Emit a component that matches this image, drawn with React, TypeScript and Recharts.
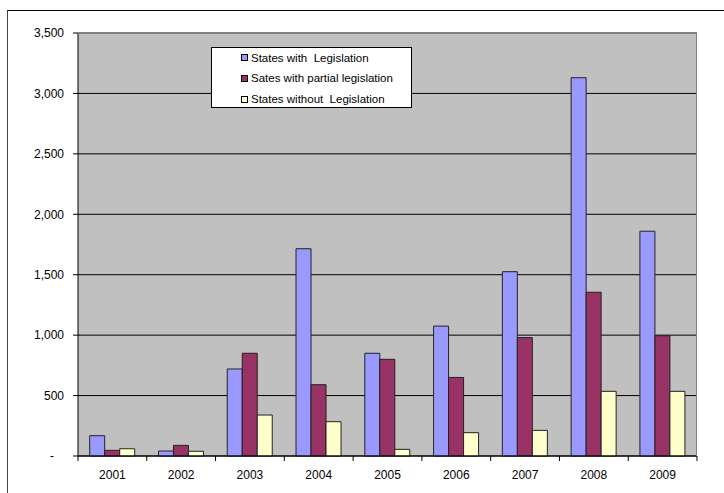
import React from 'react';
import { BarChart, Bar, XAxis, YAxis, CartesianGrid } from 'recharts';

const years = ['2001', '2002', '2003', '2004', '2005', '2006', '2007', '2008', '2009'];
const withLegislation = [168, 41, 720, 1715, 850, 1075, 1525, 3130, 1860];
const partialLegislation = [47, 88, 850, 590, 800, 650, 980, 1355, 995];
const withoutLegislation = [60, 39, 339, 284, 55, 193, 212, 535, 535];
const seriesNames = ['States with  Legislation', 'Sates with partial legislation', 'States without  Legislation'];
const seriesKeys = ['withLeg', 'partial', 'without'];
const seriesColors = ['#9999FF', '#993366', '#FFFFCC'];
const yTicks = [0, 500, 1000, 1500, 2000, 2500, 3000, 3500];

const data = years.map((year, i) => ({
  year,
  withLeg: withLegislation[i],
  partial: partialLegislation[i],
  without: withoutLegislation[i],
}));

const W = 724;
const H = 493;
const PLOT_LEFT = 78;
const PLOT_TOP = 33;
const PLOT_RIGHT = 697;
const PLOT_BOTTOM = 456;
const FONT = '"Liberation Sans", Arial, sans-serif';

const XTick = (props: any) => {
  const { x, payload, index } = props;
  const half = (PLOT_RIGHT - PLOT_LEFT) / years.length / 2;
  return (
    <g>
      <line x1={x - half} x2={x - half} y1={PLOT_BOTTOM} y2={PLOT_BOTTOM + 5} stroke="#000" />
      {index === years.length - 1 && (
        <line x1={x + half} x2={x + half} y1={PLOT_BOTTOM} y2={PLOT_BOTTOM + 5} stroke="#000" />
      )}
      <text x={x} y={PLOT_BOTTOM + 23} textAnchor="middle" fontSize={12} fontFamily={FONT} fill="#000">
        {payload.value}
      </text>
    </g>
  );
};

const yFormat = (v: number) => (v === 0 ? '-\u00A0\u00A0\u00A0' : v.toLocaleString('en-US'));

export default function App() {
  return (
    <div style={{ position: 'relative', width: W, height: H, overflow: 'hidden', background: '#fff' }}>
      <style>{'body{margin:0}'}</style>
      <div
        style={{
          position: 'absolute',
          left: 7,
          top: 10,
          width: 900,
          height: 700,
          borderLeft: '1px solid #444',
          borderTop: '1px solid #000',
        }}
      />
      <div style={{ position: 'absolute', left: 0, top: 0 }}>
        <BarChart
          width={W}
          height={H}
          data={data}
          margin={{ top: PLOT_TOP, right: W - PLOT_RIGHT, left: 0, bottom: 0 }}
          barCategoryGap="17%"
          barGap={0}
        >
          <CartesianGrid vertical={false} stroke="#000" strokeWidth={1} fill="#C0C0C0" />
          <XAxis
            dataKey="year"
            height={H - PLOT_BOTTOM}
            axisLine={{ stroke: '#000' }}
            tickLine={false}
            tick={<XTick />}
            interval={0}
          />
          <YAxis
            width={PLOT_LEFT}
            domain={[0, 3500]}
            ticks={yTicks}
            interval={0}
            tickFormatter={yFormat}
            axisLine={{ stroke: '#000' }}
            tickLine={{ stroke: '#000' }}
            tickSize={5}
            tickMargin={9}
            tick={{ fontSize: 12, fontFamily: FONT, fill: '#000' }}
          />
          {seriesKeys.map((k, i) => (
            <Bar
              key={k}
              dataKey={k}
              name={seriesNames[i]}
              fill={seriesColors[i]}
              stroke="#222"
              strokeWidth={1}
              isAnimationActive={false}
            />
          ))}
        </BarChart>
      </div>
      <div
        style={{
          position: 'absolute',
          left: PLOT_LEFT,
          top: PLOT_TOP,
          width: PLOT_RIGHT - PLOT_LEFT,
          height: 0,
          borderTop: '1px solid #808080',
          pointerEvents: 'none',
        }}
      />
      <div
        style={{
          position: 'absolute',
          left: PLOT_RIGHT - 1,
          top: PLOT_TOP,
          width: 0,
          height: PLOT_BOTTOM - PLOT_TOP,
          borderLeft: '1px solid #808080',
          pointerEvents: 'none',
        }}
      />
      <div
        style={{
          position: 'absolute',
          left: 211,
          top: 47,
          width: 201,
          height: 61,
          background: '#fff',
          border: '1px solid #000',
          boxSizing: 'border-box',
          fontFamily: FONT,
          fontSize: 11.5,
          color: '#000',
        }}
      >
        {seriesNames.map((n, i) => (
          <div
            key={n}
            style={{
              position: 'absolute',
              left: 29,
              top: 2 + i * 20.8,
              height: 15,
              display: 'flex',
              alignItems: 'center',
              whiteSpace: 'pre',
            }}
          >
            <span
              style={{
                display: 'inline-block',
                width: 5,
                height: 5,
                background: seriesColors[i],
                border: '1px solid #000',
                marginRight: 3,
              }}
            />
            {n}
          </div>
        ))}
      </div>
    </div>
  );
}
